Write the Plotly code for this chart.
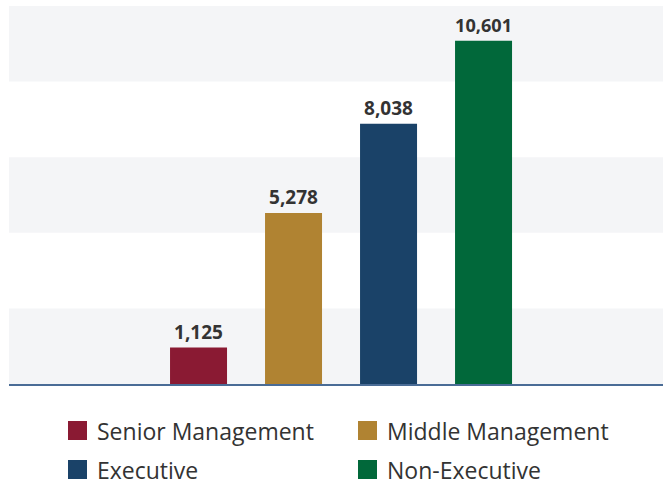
import plotly.graph_objects as go

# Headcount by employee category
categories = ["Senior Management", "Middle Management", "Executive", "Non-Executive"]
headcount = [1125, 5278, 8038, 10601]
colors = ["#8A1A33", "#B08332", "#1A4268", "#01683A"]

# Value axis: alternating bands every band_step, up to y_max
band_step = 2334
y_max = 11670

W, H = 663, 486
M_L, M_R, M_T, M_B = 9, 0, 6, 102
plot_w = W - M_L - M_R
plot_h = H - M_T - M_B

FONT = "Open Sans"

fig = go.Figure()
fig.add_trace(go.Bar(
    x=categories,
    y=headcount,
    marker=dict(color=colors, line=dict(width=0)),
    width=0.6,
    texttemplate="%{y:,}",
    textposition="outside",
    textfont=dict(family=FONT, size=19, color="#333333", weight="bold"),
    cliponaxis=False,
    showlegend=False,
    hoverinfo="skip",
))

# Alternating horizontal bands, starting shaded at the baseline
shapes = []
k = 0
while k * band_step < y_max - 1:
    if k % 2 == 0:
        shapes.append(dict(
            type="rect", xref="paper", yref="y", layer="below",
            x0=0, x1=1, y0=k * band_step, y1=min((k + 1) * band_step, y_max),
            fillcolor="#F4F5F7", line=dict(width=0),
        ))
    k += 1


def px_to_paper_x(px):
    return (px - M_L) / plot_w


def px_to_paper_y(py):
    return (H - M_B - py) / plot_h


# Two-column legend below the chart
legend_cols = [68, 358]
legend_rows = [430.5, 469.5]
swatch = 19
annotations = []
for i, (name, col) in enumerate(zip(categories, colors)):
    cx = legend_cols[i % 2]
    cy = legend_rows[i // 2]
    shapes.append(dict(
        type="rect", xref="paper", yref="paper",
        x0=px_to_paper_x(cx), x1=px_to_paper_x(cx + swatch),
        y0=px_to_paper_y(cy + swatch / 2), y1=px_to_paper_y(cy - swatch / 2),
        fillcolor=col, line=dict(width=0),
    ))
    annotations.append(dict(
        text=name, xref="paper", yref="paper",
        x=px_to_paper_x(cx + swatch + 8), y=px_to_paper_y(cy),
        xanchor="left", yanchor="middle", showarrow=False,
        font=dict(family=FONT, size=23, color="#333333"),
    ))

fig.update_layout(
    width=W, height=H,
    margin=dict(l=M_L, r=M_R, t=M_T, b=M_B, pad=0),
    paper_bgcolor="white",
    plot_bgcolor="white",
    shapes=shapes,
    annotations=annotations,
    bargap=0.4,
    xaxis=dict(
        type="category",
        range=[-1.995, 4.889],
        showticklabels=False, ticks="",
        showgrid=False, zeroline=False,
        showline=True, linecolor="#4A6C96", linewidth=1.5,
        fixedrange=True,
    ),
    yaxis=dict(
        range=[0, y_max],
        showticklabels=False, ticks="",
        showgrid=False, zeroline=False, showline=False,
        fixedrange=True,
    ),
)

fig.write_html("out.html", config={"displayModeBar": False})
